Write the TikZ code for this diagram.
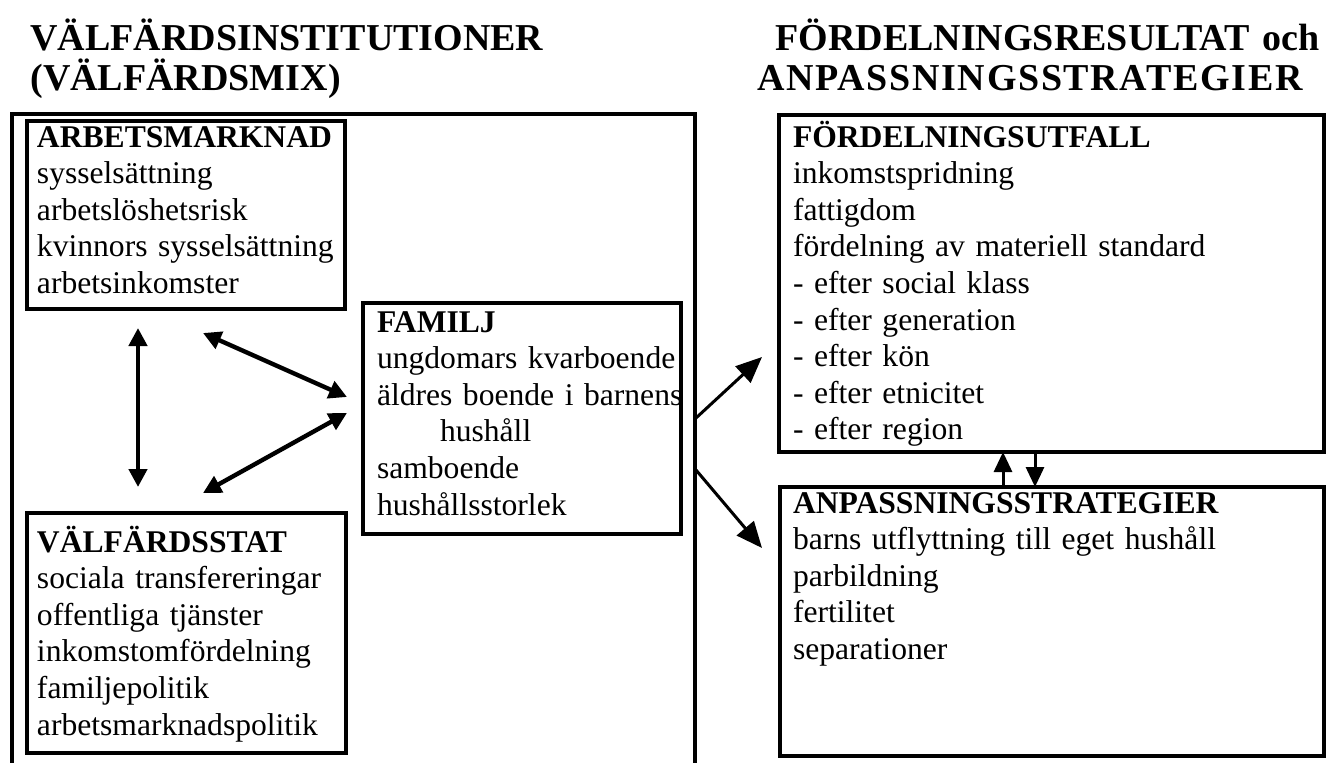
\documentclass[tikz,border=0pt]{standalone}
\usepackage{fontspec}
\setmainfont{Liberation Serif}
\usetikzlibrary{arrows.meta}

\begin{document}
\begin{tikzpicture}[x=0.5pt,y=-0.5pt,
  box/.style={draw, line width=2.2pt, anchor=north west, align=left,
    inner ysep=0pt, outer sep=0pt, font=\fontsize{15.8}{18.3}\selectfont},
  frame/.style={line width=2.2pt},
  biarrow/.style={{Triangle[length=9pt,width=9pt]}-{Triangle[length=9pt,width=9pt]}, line width=2.2pt},
  outarrow/.style={-{Triangle[length=13pt,width=11pt]}, line width=1.5pt},
  fbarrow/.style={-{Triangle[length=10pt,width=9pt]}, line width=1.5pt},
  title/.style={anchor=base west, align=left, inner sep=0pt, text width=300pt,
    font=\bfseries\fontsize{19}{20}\selectfont}]
\useasboundingbox (0,0) rectangle (1330,762);

% headings
\node[title] (titleL) at (30,50) {VÄLFÄRDSINSTITUTIONER\\(VÄLFÄRDSMIX)};
\node[title] (titleR) at (757,50) {\hspace*{9pt}FÖRDELNINGSRESULTAT och\\{\addfontfeatures{LetterSpace=4.4}ANPASSNINGSSTRATEGIER}};

% welfare mix frame, open at the bottom
\draw[frame] (12,775) |- (695,114) -- (695,775);
\coordinate (mixa) at (696,418);
\coordinate (mixb) at (696,470);

% institutions
\node[box, inner xsep=5pt, text width=149pt, text height=13pt, text depth=81pt] (arb) at (27,121)
  {\textbf{ARBETSMARKNAD}\\sysselsättning\\arbetslöshetsrisk\\kvinnors sysselsättning\\arbetsinkomster};
\node[box, inner xsep=5pt, text width=149.5pt, text height=19.5pt, text depth=100.5pt] (vst) at (27,513)
  {\textbf{VÄLFÄRDSSTAT}\\sociala transfereringar\\offentliga tjänster\\inkomstomfördelning\\familjepolitik\\arbetsmarknadspolitik};
\node[box, inner xsep=7pt, text width=145pt, text height=14.5pt, text depth=101pt] (fam) at (363,303)
  {\textbf{FAMILJ}\\\mbox{ungdomars kvarboende}\\\mbox{äldres boende i barnens}\\\hspace*{31.5pt}hushåll\\samboende\\hushållsstorlek};

% outcomes
\node[box, inner xsep=7pt, text width=258.5pt, text height=16pt, text depth=152.5pt] (ful) at (779,115)
  {\textbf{FÖRDELNINGSUTFALL}\\inkomstspridning\\fattigdom\\fördelning av materiell standard\\- efter social klass\\- efter generation\\- efter kön\\- efter etnicitet\\- efter region};
\node[box, inner xsep=6.5pt, text width=259pt, text height=13pt, text depth=121.5pt] (anp) at (780,487)
  {\textbf{ANPASSNINGSSTRATEGIER}\\barns utflyttning till eget hushåll\\parbildning\\fertilitet\\separationer};

% links inside the mix
\draw[biarrow] ([xshift=-24pt,yshift=-9.5pt]arb.south) -- ([xshift=-24.25pt,yshift=13pt]vst.north);
\draw[biarrow] ([xshift=8.5pt,yshift=-12pt]arb.south) -- ([xshift=-8pt,yshift=10.75pt]fam.west);
\draw[biarrow] ([xshift=8.25pt,yshift=10pt]vst.north) -- ([xshift=-8pt,yshift=2.75pt]fam.west);

% mix to outcomes
\draw[outarrow] (mixa) -- ([xshift=-8.5pt,yshift=-36.75pt]ful.west);
\draw[outarrow] (mixb) -- ([xshift=-9pt,yshift=36.75pt]anp.west);
\draw[fbarrow] ([xshift=-24.5pt]anp.north) -- ([xshift=-24.25pt]ful.south);
\draw[fbarrow] ([xshift=-8.25pt]ful.south) -- ([xshift=-8.5pt]anp.north);
\end{tikzpicture}
\end{document}
